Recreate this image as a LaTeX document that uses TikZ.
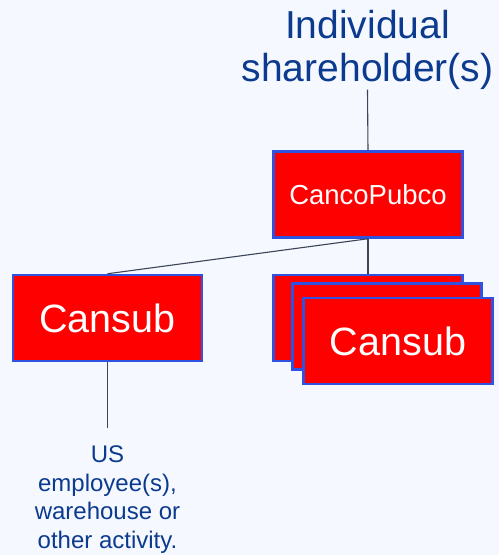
\documentclass[tikz,border=0pt]{standalone}
\usepackage{fontspec}
\setmainfont{Liberation Sans}
\definecolor{bg}{HTML}{F5F8FF}
\definecolor{txtblue}{HTML}{0B3A8E}
\definecolor{boxblue}{HTML}{2F52E0}
\definecolor{boxred}{HTML}{FF0000}
\definecolor{linegray}{HTML}{3C4458}
\begin{document}
\begin{tikzpicture}[x=1pt,y=1pt,
  box/.style={draw=boxblue, fill=boxred, line width=2.5pt, minimum width=189pt,
    minimum height=86pt, inner sep=0pt, text=white, text depth=0pt},
  bluetext/.style={text=txtblue, align=center, inner sep=0pt},
  conn/.style={draw=linegray, line width=1.1pt}]
\fill[bg] (0,0) rectangle (499,555);
\useasboundingbox (0,0) rectangle (499,555);
\node[bluetext, anchor=north, font=\fontsize{39}{43}\selectfont] (title) at (367.5,545) {Individual\\shareholder(s)};
\node[box, font=\fontsize{27.5}{31}\selectfont] (pubco) at (368,360.5) {CancoPubco};
\node[box, font=\fontsize{39.5}{44}\selectfont] (left) at (107.5,237) {Cansub};
\node[box] (s1) at (368,237) {};
\node[box] (s2) at (387,228.5) {};
\node[box, font=\fontsize{39.5}{44}\selectfont] (s3) at (398,214) {Cansub};
\node[bluetext, anchor=north, font=\fontsize{24}{28.5}\selectfont] (us) at (107.5,109) {US\\employee(s),\\warehouse or\\other activity.};
\draw[conn] (title.south) -- (pubco.north);
\draw[conn] (pubco.south) -- (left.north);
\draw[conn] (pubco.south) -- (s1.north);
\draw[conn, shorten >=18pt] (left.south) -- (us.north);
\end{tikzpicture}
\end{document}
